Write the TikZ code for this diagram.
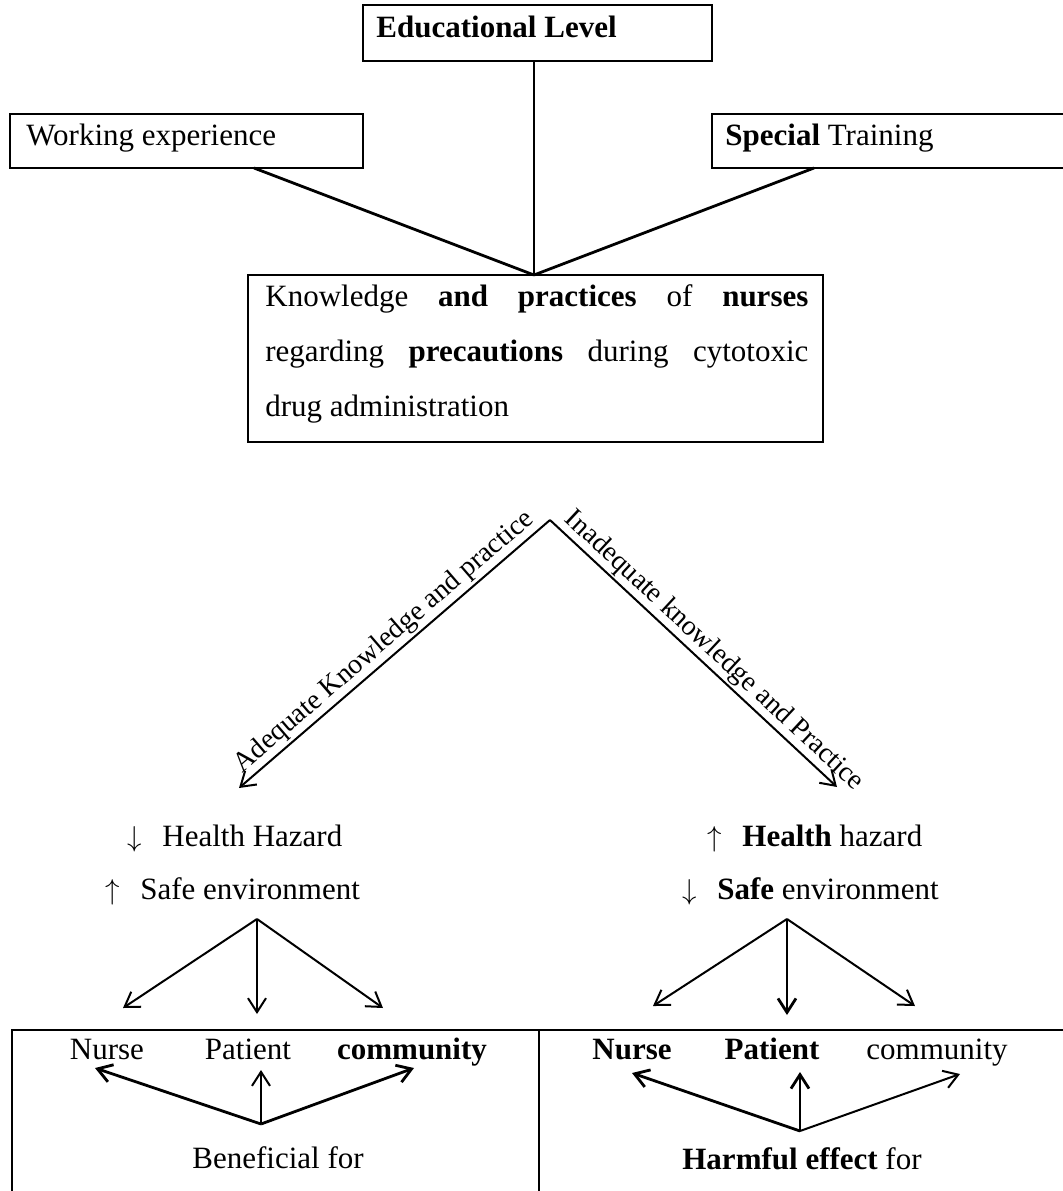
\documentclass[tikz,border=0pt]{standalone}
\usepackage{fontspec}
\setmainfont{Liberation Serif}
\usetikzlibrary{arrows.meta}
\newcommand{\arrbox}[1]{\makebox[17.5pt][l]{$#1$}}
\begin{document}
\begin{tikzpicture}[x=0.5pt,y=-0.5pt,
  box/.style={draw, line width=1pt, inner sep=0pt},
  txt/.style={inner sep=0pt, font=\fontsize{15.5}{27.5}\selectfont},
  lbl/.style={inner sep=1pt, font=\fontsize{14}{16}\selectfont, sloped, above},
  ln/.style={line width=1pt},
  thick ln/.style={line width=1.4pt},
  arr/.style={line width=1pt, -{Straight Barb[length=7pt,width=9pt]}},
  thick arr/.style={line width=1.4pt, -{Straight Barb[length=7pt,width=9pt]}}]
\useasboundingbox (0,0) rectangle (1063,1191);
\fill[white] (0,0) rectangle (1063,1191);

% top boxes
\node[box, minimum width=174.5pt, minimum height=28pt] (edu) at (537.5,33) {};
\node[txt, anchor=base west] (edut) at (376,37) {\textbf{Educational Level}};
\node[box, minimum width=176.5pt, minimum height=27pt] (work) at (186.5,141) {};
\node[txt, anchor=base west] (workt) at (26,145) {Working experience};
\draw[ln] (1063,114) -- (712,114) -- (712,168) -- (1063,168);
\node[txt, anchor=base west] (spect) at (725,145) {\textbf{Special} Training};

% knowledge box
\node[box, minimum width=287.5pt, minimum height=83.5pt] (know) at (535.5,358.5) {};
\node[txt, text width=271.5pt, align=justify, anchor=north west] (knowt) at (265,284)
  {Knowledge \textbf{and} \textbf{practices} of \textbf{nurses}\linebreak
   regarding \textbf{precautions} during cytotoxic\linebreak
   drug administration};

% connectors to knowledge box
\coordinate (kt) at (534,275);
\coordinate (w1) at (254,168);
\coordinate (s1) at (814,168);
\draw[ln] (edu.south -| kt) -- (kt);
\draw[thick ln] (w1) -- (kt);
\draw[thick ln] (s1) -- (kt);

% diagonal branches
\coordinate (apex) at (550,520);
\coordinate (ltip) at (239,788);
\coordinate (rtip) at (837,787);
\draw[arr] (apex) -- node[lbl, pos=0.5] {Adequate Knowledge and practice} (ltip);
\draw[arr] (apex) -- node[lbl, pos=0.534] {Inadequate knowledge and Practice} (rtip);

% left outcome
\node[txt, anchor=base west] (lhh) at (127,846) {\arrbox{\downarrow}Health Hazard};
\node[txt, anchor=base west] (lse) at (105,899) {\arrbox{\uparrow}Safe environment};
\coordinate (lf) at (257,919);
\coordinate (lfa) at (123,1008);
\coordinate (lfb) at (257,1014);
\coordinate (lfc) at (383,1008);
\draw[arr] (lf) -- (lfa);
\draw[arr] (lf) -- (lfb);
\draw[arr] (lf) -- (lfc);

% right outcome
\node[txt, anchor=base west] (rhh) at (707,846) {\arrbox{\uparrow}\textbf{Health} hazard};
\node[txt, anchor=base west] (rse) at (682,899) {\arrbox{\downarrow}\textbf{Safe} environment};
\coordinate (rf) at (787,919);
\coordinate (rfa) at (653,1006);
\coordinate (rfb) at (787,1015);
\coordinate (rfc) at (915,1006);
\draw[arr] (rf) -- (rfa);
\draw[thick arr] (rf) -- (rfb);
\draw[arr] (rf) -- (rfc);

% bottom boxes
\draw[ln] (12,1191) -- (12,1030) -- (1063,1030);
\draw[ln] (539,1030) -- (539,1191);

% left bottom content
\node[txt, anchor=base] (lnurse) at (107,1059) {Nurse};
\node[txt, anchor=base] (lpat) at (248,1059) {Patient};
\node[txt, anchor=base] (lcom) at (412,1059) {\textbf{community}};
\node[txt, anchor=base] (lben) at (278,1168) {Beneficial for};
\coordinate (lc) at (261,1124);
\coordinate (lca) at (95,1068);
\coordinate (lcb) at (261,1070);
\coordinate (lcc) at (414,1068);
\draw[thick arr] (lc) -- (lca);
\draw[arr] (lc) -- (lcb);
\draw[thick arr] (lc) -- (lcc);

% right bottom content
\node[txt, anchor=base] (rnurse) at (632,1059) {\textbf{Nurse}};
\node[txt, anchor=base] (rpat) at (772,1059) {\textbf{Patient}};
\node[txt, anchor=base] (rcom) at (937,1059) {community};
\node[txt, anchor=base] (rharm) at (802,1169) {\textbf{Harmful effect} for};
\coordinate (rc) at (800,1131);
\coordinate (rca) at (632,1073);
\coordinate (rcb) at (800,1072);
\coordinate (rcc) at (960,1074);
\draw[thick arr] (rc) -- (rca);
\draw[thick arr] (rc) -- (rcb);
\draw[arr] (rc) -- (rcc);
\end{tikzpicture}
\end{document}
